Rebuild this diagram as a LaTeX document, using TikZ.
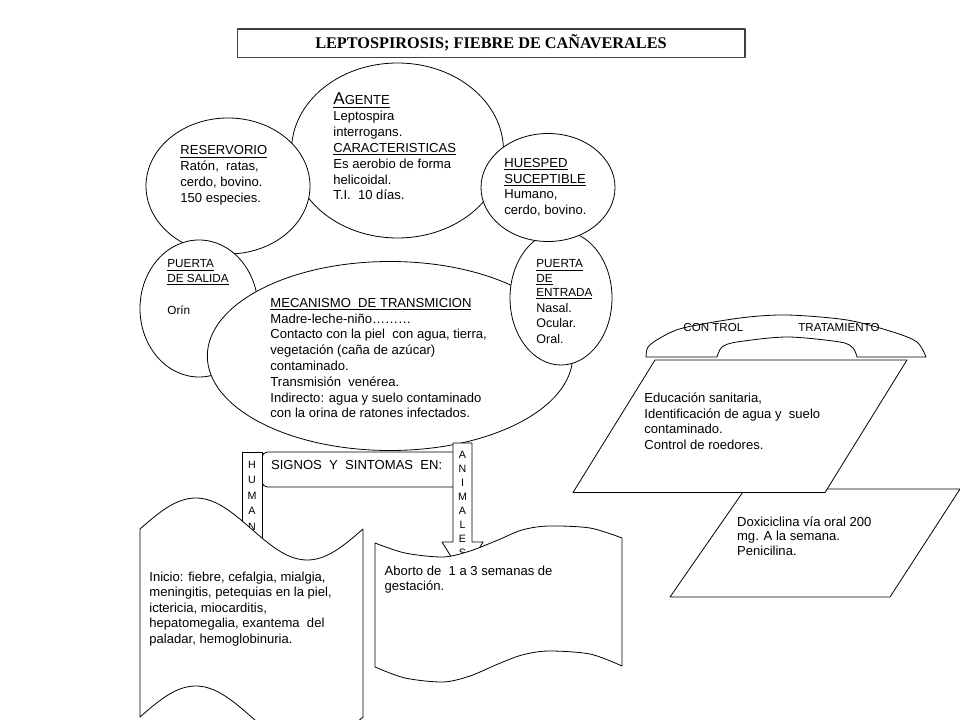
\documentclass[tikz,border=0pt]{standalone}
\usepackage{fontspec}
\setmainfont{Liberation Sans}
\newfontfamily\titlefont{Liberation Serif}
\usetikzlibrary{shapes.geometric}
\newcommand\tblock[1]{\parbox[t]{300pt}{\raggedright #1}}
\begin{document}
\begin{tikzpicture}[x=0.75pt,y=-0.75pt,line width=0.6pt,line join=round,
  ell/.style={draw, fill=white, ellipse, inner sep=0pt, outer sep=0pt},
  shp/.style={draw, fill=white},
  txt/.style={anchor=base west, inner sep=0pt, font=\fontsize{9.8}{11.85}\selectfont},
  sml/.style={anchor=base west, inner sep=0pt, font=\fontsize{8.8}{11}\selectfont},
  ltr/.style={anchor=base, inner sep=0pt, font=\fontsize{8}{9}\selectfont}]
\useasboundingbox (0,0) rectangle (960,720);
\clip (0,0) rectangle (960,720);
\fill[white] (0,0) rectangle (960,720);

% title
\draw[line width=1pt, black!75] (237.7,29) rectangle (745,57.7);
\node[anchor=base, inner sep=0pt, font=\titlefont\bfseries\fontsize{12.2}{14}\selectfont] (title) at (491,49) {LEPTOSPIROSIS; FIEBRE DE CAÑAVERALES};

% ellipses
\node[ell, minimum width=159pt, minimum height=131.25pt] (agente) at (397.5,150.5) {};
\node[ell, minimum width=123pt, minimum height=102pt] (reservorio) at (228,186) {};
\node[ell, minimum width=88.5pt, minimum height=102.75pt] (salida) at (199,308.5) {};
\node[ell, minimum width=274pt, minimum height=141.75pt] (mecanismo) at (390,356) {};
\node[ell, minimum width=76.5pt, minimum height=100.5pt] (entrada) at (561,298) {};
\node[ell, minimum width=100.5pt, minimum height=81pt] (huesped) at (548,187.5) {};

% ellipse texts
\node[txt] (tag1) at (333,105) {\underline{{\fontsize{12.8}{12}\selectfont A}GENTE}};
\node[txt] (tag2) at (333,121) {\tblock{Leptospira\\interrogans.\\\underline{CARACTERISTICAS}\\Es aerobio de forma\\helicoidal.\\T.I.\ \ 10 días.}};
\node[txt] (tres) at (180,155) {\tblock{\underline{RESERVORIO}\\Ratón,\ \ ratas,\\cerdo, bovino.\\150 especies.}};
\node[txt] (thue) at (504,167.3) {\tblock{\underline{HUESPED}\\\underline{SUCEPTIBLE}\\Humano,\\cerdo, bovino.}};
\node[sml] (tsal1) at (167,268) {\tblock{\underline{PUERTA}\\\underline{DE SALIDA}}};
\node[sml] (tsal2) at (167,315) {Orín};
\node[sml, font=\fontsize{8.8}{10.5}\selectfont] (tent1) at (536,268) {\tblock{\underline{PUERTA}\\\underline{DE}\\\underline{ENTRADA}}};
\node[txt, font=\fontsize{9.4}{11.6}\selectfont] (tent2) at (536,312.5) {\tblock{Nasal.\\Ocular.\\Oral.}};
\node[txt] (tmec) at (270,307.3) {\tblock{\underline{MECANISMO\ \ DE TRANSMICION}\\Madre-leche-niño………\\Contacto con la piel\ \ con agua, tierra,\\vegetación (caña de azúcar)\\contaminado.\\Transmisión\ \ venérea.\\Indirecto: agua y suelo contaminado\\con la orina de ratones infectados.}};

% control / tratamiento
\draw[shp] plot[smooth] coordinates {(646,357)(648,347)(660,338)(683,328)(740,318)(787,315)(847,320)(893,332)(917,342)(926,357)}
  -- (857,357) -- plot[smooth] coordinates {(857,357)(853,348)(840,342)(787,337)(737,342)(722,347)(717,357)} -- cycle;
\node[sml, font=\fontsize{8.7}{10}\selectfont] (tcon) at (683,331) {CON TROL};
\node[sml, font=\fontsize{8.7}{10}\selectfont] (ttra) at (798,331) {TRATAMIENTO};

\draw[shp] (745,489) -- (960,489) -- (890,597) -- (670,597) -- cycle;
\draw[shp] (655,360) -- (907,360) -- (825,492.5) -- (573,492.5) -- cycle;
\node[txt, font=\fontsize{9.8}{11.6}\selectfont] (tedu) at (644,402.7) {\tblock{Educación sanitaria,\\Identificación de agua y\ \ suelo\\contaminado.\\Control de roedores.}};
\node[txt, font=\fontsize{9.8}{10.9}\selectfont] (tdox) at (736.7,526) {\tblock{Doxiciclina vía oral 200\\mg. A la semana.\\Penicilina.}};

% signos
\draw[shp, rounded corners=4pt] (262,452) rectangle (462,487);
\node[txt] (tsig) at (270.7,469.3) {SIGNOS\ \ Y\ \ SINTOMAS\ \ EN:};
\draw[shp] (242,452) rectangle (262,570);
\foreach \l/\yy [count=\i] in {H/468,U/483.5,M/499,A/514.5,N/530}
  \node[ltr] (hu\i) at (252,\yy) {\l};
\draw[shp] (453,443) -- (472,443) -- (472,542) -- (483,542) -- (462.5,575) -- (442,542) -- (453,542) -- cycle;
\foreach \l [count=\i] in {A,N,I,M,A,L,E,S}
  \node[ltr] (an\i) at (462.5,{458+14.1*(\i-1)}) {\l};

% human wave
\draw[shp] plot[domain=140:363,samples=80] (\x,{529-31*sin(1.61435*(\x-140))})
  -- plot[domain=363:140,samples=80] (\x,{717-31*sin(1.61435*(\x-140))}) -- cycle;
\node[txt, font=\fontsize{9.8}{11.7}\selectfont] (thum) at (149,581) {\tblock{Inicio: fiebre, cefalgia, mialgia,\\meningitis, petequias en la piel,\\ictericia, miocarditis,\\hepatomegalia, exantema\ \ del\\paladar, hemoglobinuria.}};

% animal wave
\draw[shp] plot[smooth] coordinates {(375,543)(405,553)(443,557)(470,551)(498,540)(522,530)(548,526)(590,528)(622,538)}
  -- (622,666) -- plot[smooth] coordinates {(622,666)(590,654)(548,651)(522,655)(498,664)(470,676)(443,682)(405,678)(375,667)} -- cycle;
\node[txt, font=\fontsize{9.8}{11.3}\selectfont] (tabo) at (384.3,575) {\tblock{Aborto de\ \ 1 a 3 semanas de\\gestación.}};
\end{tikzpicture}
\end{document}
